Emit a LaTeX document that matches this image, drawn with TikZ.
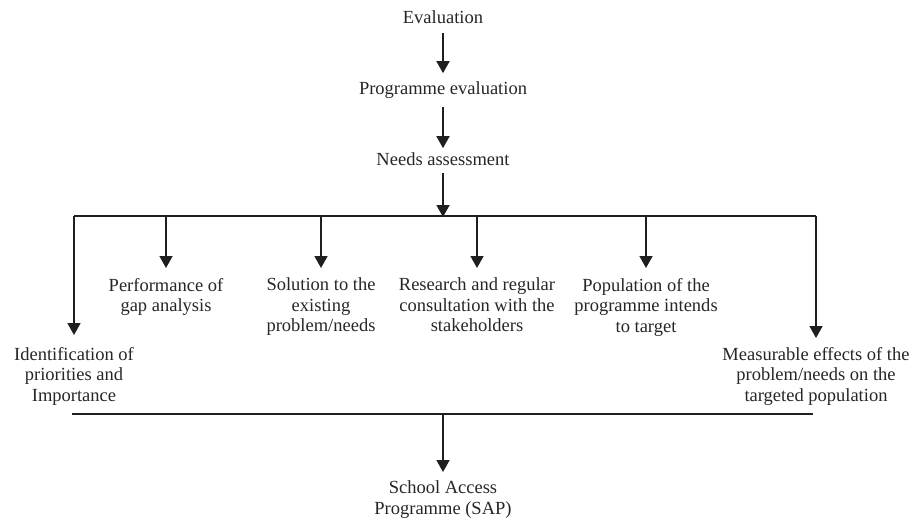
\documentclass[tikz,border=0pt]{standalone}
\usepackage{fontspec}
\setmainfont{Liberation Serif}
\usetikzlibrary{arrows.meta}
\begin{document}
\begin{tikzpicture}[x=1pt,y=-1pt,
  lbl/.style={inner sep=0pt, outer sep=0pt, align=center, text=black!85, font=\fontsize{18.5}{20.5}\selectfont},
  arr/.style={line width=1.7pt, draw=black!88, -{Triangle[length=12pt,width=13pt]}},
  ln/.style={line width=1.7pt, draw=black!88}]
\useasboundingbox (0,0) rectangle (912,519);
% top chain
\node[lbl,anchor=base] (eval) at (443,24) {Evaluation};
\node[lbl,anchor=base] (prog) at (443,94) {Programme evaluation};
\node[lbl,anchor=base] (needs) at (443,165) {Needs assessment};
% branch labels
\node[lbl,anchor=north] (ident) at (74,347) {Identification of\\priorities and\\Importance};
\node[lbl,anchor=north] (perf) at (166,278) {Performance of\\gap analysis};
\node[lbl,anchor=north] (sol) at (321,278) {Solution to the\\existing\\problem/needs};
\node[lbl,anchor=north] (res) at (477,278) {Research and regular\\consultation with the\\stakeholders};
\node[lbl,anchor=north] (pop) at (646,278) {Population of the\\programme intends\\to target};
\node[lbl,anchor=north] (meas) at (816,347) {Measurable effects of the\\problem/needs on the\\targeted population};
\node[lbl,anchor=north] (sap) at (443,481) {School Access\\Programme (SAP)};
% bar coordinates
\coordinate (bmid) at (443,216);
\coordinate (bl) at (74,216);
\coordinate (br) at (816,216);
\coordinate (b1) at (166,216);
\coordinate (b2) at (321,216);
\coordinate (b3) at (477,216);
\coordinate (b4) at (646,216);
\coordinate (cl) at (72,414);
\coordinate (cr) at (813,414);
\coordinate (cmid) at (443,414);
% arrows of the chain
\draw[arr] ([yshift=-9pt]eval.south) -- ([yshift=8pt]prog.north);
\draw[arr] ([yshift=-9pt]prog.south) -- ([yshift=4pt]needs.north);
\draw[arr] ([yshift=-8pt]needs.south) -- ([yshift=-1pt]bmid);
% top bar
\draw[ln] (bl) -- (br);
\draw[arr] (bl) -- ([yshift=12pt]ident.north);
\draw[arr] (b1) -- ([yshift=10pt]perf.north);
\draw[arr] (b2) -- ([yshift=10pt]sol.north);
\draw[arr] (b3) -- ([yshift=10pt]res.north);
\draw[arr] (b4) -- ([yshift=10pt]pop.north);
\draw[arr] (br) -- ([yshift=9pt]meas.north);
% bottom bar
\draw[ln] (cl) -- (cr);
\draw[arr] (cmid) -- ([yshift=9pt]sap.north);
\end{tikzpicture}
\end{document}
